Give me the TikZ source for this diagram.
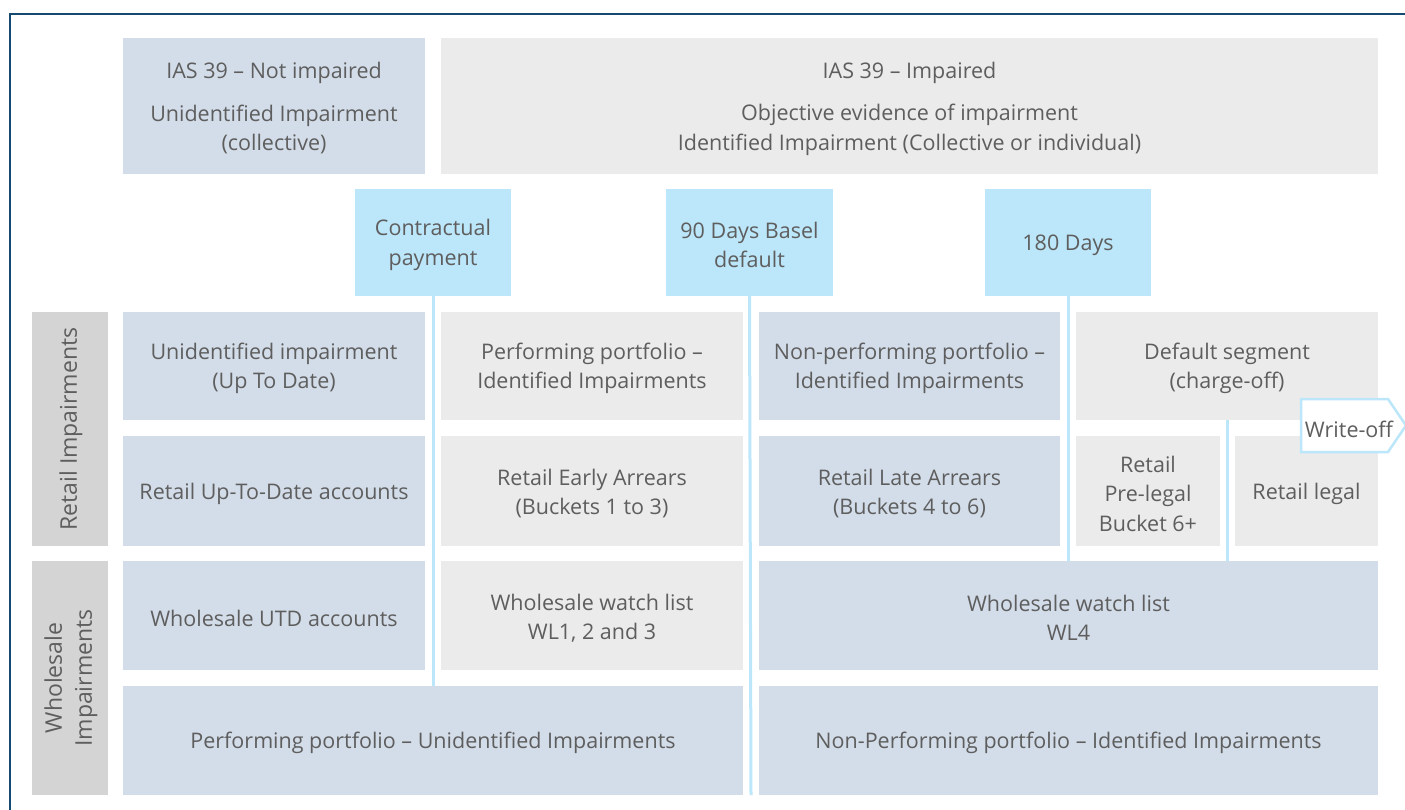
\documentclass[tikz,border=0pt]{standalone}
\usepackage{fontspec}
\setmainfont{Open Sans}
\definecolor{bluegray}{HTML}{D3DDE9}
\definecolor{lgray}{HTML}{EBEBEB}
\definecolor{cyanbox}{HTML}{BCE6F9}
\definecolor{sidegray}{HTML}{D4D4D4}
\definecolor{txt}{HTML}{5E5E5E}
\definecolor{frame}{HTML}{164A70}
\tikzset{
  cell/.style={draw=none, inner sep=0pt, align=center, text=txt,
    font=\fontsize{21.5}{29.5}\selectfont},
  celltext/.style={inner sep=0pt, align=center, text=txt,
    font=\fontsize{21.5}{29.5}\selectfont, yshift=-2.5pt},
  sidetext/.style={inner sep=0pt, align=center, text=txt, rotate=90,
    font=\fontsize{23}{30}\selectfont},
  vline/.style={draw=cyanbox, line width=3pt},
  frameline/.style={draw=frame, line width=2.7pt},
  wobox/.style={draw=cyanbox, line width=2.5pt, fill=white, line join=miter},
}
\newcommand\cellbox[7]{%
  \node[cell, fill=#6, minimum width={(#4-#2)*1pt}, minimum height={(#5-#3)*1pt}]
    (#1) at ({(#2+#4)/2},{(#3+#5)/2}) {};
  \node[celltext] (#1t) at (#1.center) {#7};}
\begin{document}
\begin{tikzpicture}[x=1pt,y=-1pt]
\useasboundingbox (0,0) rectangle (1405,809);
% frame
\draw[frameline] (1410,14) -- (10,14) -- (10,815);

% milestone boxes
\cellbox{cp}{355}{189}{511}{296}{cyanbox}{Contractual\\payment}
\cellbox{nd}{666}{189}{833}{296}{cyanbox}{90 Days Basel\\default}
\cellbox{od}{985}{189}{1151}{296}{cyanbox}{180 Days}

% vertical lines
\coordinate (cpend) at (433,686);
\coordinate (ndend) at (751,795);
\coordinate (odend) at (1068,561);
\coordinate (dsstart) at (1227,420);
\coordinate (dsend) at (1227,561);
\draw[vline] (cp.south) -- (cpend);
\draw[vline] (nd.south) -- (ndend);
\draw[vline] (od.south) -- (odend);

% top row
\cellbox{nimp}{123}{38}{425}{174}{bluegray}{IAS 39 – Not impaired\\[13pt]Unidentified Impairment\\(collective)}
\cellbox{imp}{441}{38}{1378}{174}{lgray}{IAS 39 – Impaired\\[13pt]Objective evidence of impairment\\Identified Impairment (Collective or individual)}

% side labels
\cellbox{rside}{32}{312}{108}{546}{sidegray}{}
\node[sidetext] (rlab) at ([xshift=1pt]rside.center) {Retail Impairments};
\cellbox{wside}{32}{561}{108}{795}{sidegray}{}
\node[sidetext] (wlab) at ([xshift=1pt]wside.center) {Wholesale\\Impairments};

% retail row 1
\cellbox{r11}{123}{312}{425}{420}{bluegray}{Unidentified impairment\\(Up To Date)}
\cellbox{r12}{441}{312}{743}{420}{lgray}{Performing portfolio –\\Identified Impairments}
\cellbox{r13}{759}{312}{1060}{420}{bluegray}{Non-performing portfolio –\\Identified Impairments}
\cellbox{r14}{1076}{312}{1378}{420}{lgray}{Default segment\\(charge-off)}

% retail row 2
\cellbox{r21}{123}{436}{425}{546}{bluegray}{Retail Up-To-Date accounts}
\cellbox{r22}{441}{436}{743}{546}{lgray}{Retail Early Arrears\\(Buckets 1 to 3)}
\cellbox{r23}{759}{436}{1060}{546}{bluegray}{Retail Late Arrears\\(Buckets 4 to 6)}
\cellbox{r24}{1076}{436}{1220}{546}{lgray}{Retail\\Pre-legal\\Bucket 6+}
\cellbox{r25}{1235}{436}{1378}{546}{lgray}{Retail legal}

\draw[vline] (r14.south -| dsstart) -- (dsend);

% write-off arrow
\draw[wobox] (1301,399) -- (1388,399) -- (1406,425.5) -- (1388,452) -- (1301,452) -- cycle;
\node[celltext] (wo) at (1349,427) {Write-off};

% wholesale row 1
\cellbox{w11}{123}{561}{425}{670}{bluegray}{Wholesale UTD accounts}
\cellbox{w12}{441}{561}{743}{670}{lgray}{Wholesale watch list\\WL1, 2 and 3}
\cellbox{w13}{759}{561}{1378}{670}{bluegray}{Wholesale watch list\\WL4}

% wholesale row 2
\cellbox{w21}{123}{686}{743}{795}{bluegray}{Performing portfolio – Unidentified Impairments}
\cellbox{w22}{759}{686}{1378}{795}{bluegray}{Non-Performing portfolio – Identified Impairments}
\end{tikzpicture}
\end{document}
